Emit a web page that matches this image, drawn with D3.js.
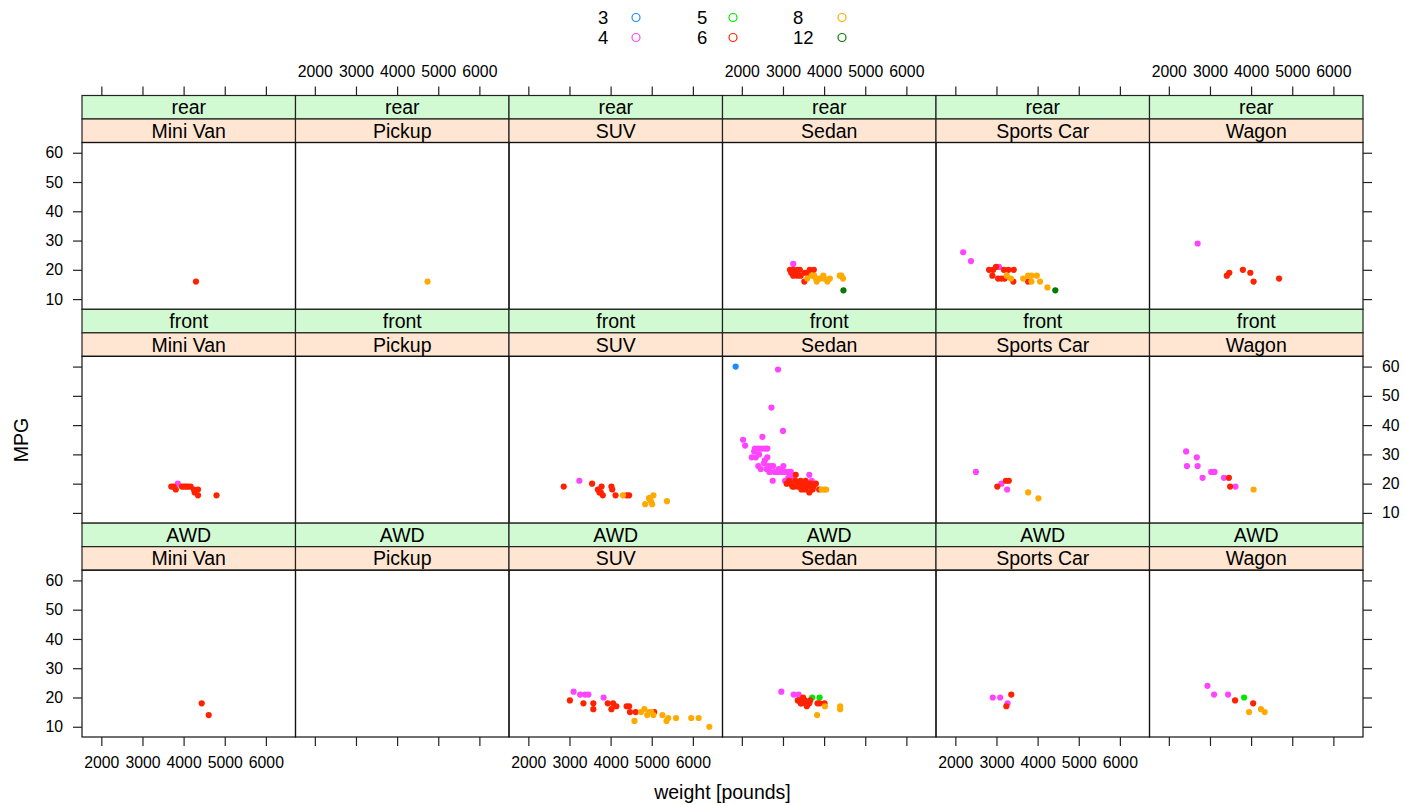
<!DOCTYPE html>
<html>
<head>
<meta charset="utf-8">
<script src="https://cdn.jsdelivr.net/npm/d3@7"></script>
<style>
body { margin: 0; background: #fff; }
text { font-family: "Liberation Sans", Arial, Helvetica, sans-serif; fill: #000; }
</style>
</head>
<body>
<div id="chart"></div>
<script>
var WIDTH = 1405, HEIGHT = 805;

// panel layout factors
var types = ["Mini Van", "Pickup", "SUV", "Sedan", "Sports Car", "Wagon"];
var drives = ["rear", "front", "AWD"];
var cylinders = [3, 4, 5, 6, 8, 12];
var cylColors = ["#1a8cff", "#ff44ff", "#00e600", "#ff2200", "#ffaa00", "#007a00"];
var xTicks = [2000, 3000, 4000, 5000, 6000];
var yTicks = [10, 20, 30, 40, 50, 60];

// [type, cylinders, weight, MPG]
var rearCars = [
    ["Mini Van", 6, 4300, 16],
    ["Pickup", 8, 4740, 16],
    ["Sedan", 4, 3250, 22],
    ["Sedan", 6, 3170, 20], ["Sedan", 6, 3250, 20], ["Sedan", 6, 3300, 19], ["Sedan", 6, 3410, 20],
    ["Sedan", 6, 3650, 20], ["Sedan", 6, 3750, 20], ["Sedan", 6, 3250, 18], ["Sedan", 6, 3350, 18],
    ["Sedan", 6, 3430, 18], ["Sedan", 6, 3530, 19], ["Sedan", 6, 3600, 19], ["Sedan", 6, 3520, 16],
    ["Sedan", 6, 3200, 19], ["Sedan", 6, 3350, 20],
    ["Sedan", 8, 3590, 17], ["Sedan", 8, 3700, 18], ["Sedan", 8, 3800, 17], ["Sedan", 8, 3900, 17],
    ["Sedan", 8, 3980, 18], ["Sedan", 8, 4080, 16], ["Sedan", 8, 4140, 17], ["Sedan", 8, 4380, 18],
    ["Sedan", 8, 4460, 17], ["Sedan", 8, 3820, 16], ["Sedan", 8, 4000, 17], ["Sedan", 8, 4420, 18],
    ["Sedan", 8, 3760, 18],
    ["Sedan", 12, 4470, 13],
    ["Sports Car", 4, 2190, 26], ["Sports Car", 4, 2380, 23], ["Sports Car", 4, 3060, 21],
    ["Sports Car", 6, 2820, 20], ["Sports Car", 6, 2920, 20], ["Sports Car", 6, 2990, 21], ["Sports Car", 6, 3180, 20],
    ["Sports Car", 6, 3290, 20], ["Sports Car", 6, 3420, 20], ["Sports Car", 6, 2900, 18], ["Sports Car", 6, 3040, 17],
    ["Sports Car", 6, 3120, 17], ["Sports Car", 6, 3200, 17], ["Sports Car", 6, 3410, 16], ["Sports Car", 6, 3770, 16],
    ["Sports Car", 8, 3250, 18], ["Sports Car", 8, 3350, 17], ["Sports Car", 8, 3650, 17], ["Sports Car", 8, 3770, 18],
    ["Sports Car", 8, 3850, 18], ["Sports Car", 8, 3980, 18], ["Sports Car", 8, 3850, 16], ["Sports Car", 8, 4060, 16],
    ["Sports Car", 8, 4240, 14],
    ["Sports Car", 12, 4430, 13],
    ["Wagon", 4, 2700, 29],
    ["Wagon", 6, 3410, 18], ["Wagon", 6, 3470, 19], ["Wagon", 6, 3800, 20], ["Wagon", 6, 3980, 19],
    ["Wagon", 6, 4060, 16], ["Wagon", 6, 4680, 17]
];

var frontCars = [
    ["Mini Van", 4, 3860, 20],
    ["Mini Van", 6, 3700, 19], ["Mini Van", 6, 3760, 19], ["Mini Van", 6, 3810, 18], ["Mini Van", 6, 3960, 19],
    ["Mini Van", 6, 4060, 19], ["Mini Van", 6, 4170, 19], ["Mini Van", 6, 4250, 18], ["Mini Van", 6, 4350, 18],
    ["Mini Van", 6, 4270, 17], ["Mini Van", 6, 4350, 16], ["Mini Van", 6, 4800, 16], ["Mini Van", 6, 4010, 19],
    ["Mini Van", 6, 4110, 19],
    ["SUV", 4, 3240, 21],
    ["SUV", 6, 2860, 19], ["SUV", 6, 3550, 20], ["SUV", 6, 3780, 19], ["SUV", 6, 3690, 18], ["SUV", 6, 3760, 17],
    ["SUV", 6, 3810, 16], ["SUV", 6, 4020, 19], ["SUV", 6, 4040, 18], ["SUV", 6, 4120, 16], ["SUV", 6, 4390, 16],
    ["SUV", 6, 4450, 16], ["SUV", 6, 4940, 15], ["SUV", 6, 3730, 17],
    ["SUV", 8, 4300, 16], ["SUV", 8, 4840, 13], ["SUV", 8, 4940, 15], ["SUV", 8, 5010, 13], ["SUV", 8, 5040, 16],
    ["SUV", 8, 5370, 14], ["SUV", 8, 4980, 14],
    ["Sedan", 3, 1850, 60],
    ["Sedan", 4, 2880, 59], ["Sedan", 4, 2720, 46], ["Sedan", 4, 3000, 38], ["Sedan", 4, 2030, 35], ["Sedan", 4, 2500, 36],
    ["Sedan", 4, 2080, 33], ["Sedan", 4, 2320, 32], ["Sedan", 4, 2400, 32], ["Sedan", 4, 2480, 32], ["Sedan", 4, 2560, 32],
    ["Sedan", 4, 2620, 32], ["Sedan", 4, 2240, 29], ["Sedan", 4, 2340, 29], ["Sedan", 4, 2560, 28], ["Sedan", 4, 2620, 29],
    ["Sedan", 4, 2400, 26], ["Sedan", 4, 2460, 25], ["Sedan", 4, 2640, 26], ["Sedan", 4, 2720, 26], ["Sedan", 4, 2680, 24],
    ["Sedan", 4, 2760, 26], ["Sedan", 4, 3010, 26], ["Sedan", 4, 2670, 24], ["Sedan", 4, 2800, 24], ["Sedan", 4, 2880, 24],
    ["Sedan", 4, 2970, 24], ["Sedan", 4, 3050, 24], ["Sedan", 4, 3130, 24], ["Sedan", 4, 3190, 24], ["Sedan", 4, 2750, 21],
    ["Sedan", 4, 3640, 23], ["Sedan", 4, 3700, 21], ["Sedan", 4, 3050, 21], ["Sedan", 4, 3130, 22], ["Sedan", 4, 3210, 22],
    ["Sedan", 4, 2420, 30], ["Sedan", 4, 2300, 31], ["Sedan", 4, 2540, 27], ["Sedan", 4, 2900, 25], ["Sedan", 4, 2600, 25],
    ["Sedan", 6, 3310, 23], ["Sedan", 6, 3090, 20], ["Sedan", 6, 3190, 20], ["Sedan", 6, 3270, 19], ["Sedan", 6, 3350, 20],
    ["Sedan", 6, 3430, 21], ["Sedan", 6, 3490, 20], ["Sedan", 6, 3560, 19], ["Sedan", 6, 3610, 20], ["Sedan", 6, 3670, 19],
    ["Sedan", 6, 3450, 18], ["Sedan", 6, 3530, 18], ["Sedan", 6, 3640, 17], ["Sedan", 6, 3740, 19], ["Sedan", 6, 3800, 20],
    ["Sedan", 6, 3880, 18], ["Sedan", 6, 3360, 19], ["Sedan", 6, 3230, 19], ["Sedan", 6, 3590, 19], ["Sedan", 6, 3480, 19],
    ["Sedan", 6, 3720, 18], ["Sedan", 6, 3400, 20], ["Sedan", 6, 3550, 21], ["Sedan", 6, 3300, 21], ["Sedan", 6, 3150, 21],
    ["Sedan", 6, 3680, 20],
    ["Sedan", 8, 3940, 18], ["Sedan", 8, 4000, 18], ["Sedan", 8, 4050, 18],
    ["Sports Car", 4, 2500, 24], ["Sports Car", 4, 3120, 20], ["Sports Car", 4, 3260, 18],
    ["Sports Car", 6, 3020, 19], ["Sports Car", 6, 3230, 21], ["Sports Car", 6, 3300, 21],
    ["Sports Car", 8, 3770, 17], ["Sports Car", 8, 4020, 15],
    ["Wagon", 4, 2420, 31], ["Wagon", 4, 2680, 29], ["Wagon", 4, 2440, 26], ["Wagon", 4, 2700, 26], ["Wagon", 4, 2820, 22],
    ["Wagon", 4, 3030, 24], ["Wagon", 4, 3110, 24], ["Wagon", 4, 3340, 22], ["Wagon", 4, 3620, 19],
    ["Wagon", 6, 3460, 22], ["Wagon", 6, 3490, 19],
    ["Wagon", 8, 4060, 18]
];

var awdCars = [
    ["Mini Van", 6, 4440, 18], ["Mini Van", 6, 4610, 14],
    ["SUV", 4, 3100, 22], ["SUV", 4, 3260, 21], ["SUV", 4, 3380, 21], ["SUV", 4, 3460, 21], ["SUV", 4, 3830, 20],
    ["SUV", 6, 3010, 19], ["SUV", 6, 3340, 18], ["SUV", 6, 3580, 18], ["SUV", 6, 3580, 16], ["SUV", 6, 3930, 18],
    ["SUV", 6, 4060, 18], ["SUV", 6, 4020, 16], ["SUV", 6, 4140, 17], ["SUV", 6, 4390, 17], ["SUV", 6, 4450, 17],
    ["SUV", 6, 4470, 15], ["SUV", 6, 4610, 15], ["SUV", 6, 5060, 15],
    ["SUV", 8, 4820, 16], ["SUV", 8, 4740, 15], ["SUV", 8, 4890, 14], ["SUV", 8, 4990, 15], ["SUV", 8, 5040, 14],
    ["SUV", 8, 4580, 12], ["SUV", 8, 5260, 14], ["SUV", 8, 5400, 13], ["SUV", 8, 5360, 12], ["SUV", 8, 5590, 13],
    ["SUV", 8, 5960, 13], ["SUV", 8, 6140, 13], ["SUV", 8, 6400, 10], ["SUV", 8, 4940, 15],
    ["Sedan", 4, 2960, 22], ["Sedan", 4, 3260, 21], ["Sedan", 4, 3380, 21],
    ["Sedan", 5, 3710, 20], ["Sedan", 5, 3890, 20],
    ["Sedan", 6, 3490, 20], ["Sedan", 6, 3360, 19], ["Sedan", 6, 3430, 18], ["Sedan", 6, 3530, 19], ["Sedan", 6, 3580, 17],
    ["Sedan", 6, 3640, 18], ["Sedan", 6, 3840, 18], ["Sedan", 6, 3890, 18], ["Sedan", 6, 4010, 18], ["Sedan", 6, 3660, 19],
    ["Sedan", 6, 3450, 18], ["Sedan", 6, 3400, 19], ["Sedan", 6, 3550, 18],
    ["Sedan", 8, 4020, 17], ["Sedan", 8, 4390, 17], ["Sedan", 8, 4390, 16], ["Sedan", 8, 3830, 14],
    ["Sports Car", 4, 2910, 20], ["Sports Car", 4, 3090, 20], ["Sports Car", 4, 3270, 18],
    ["Sports Car", 6, 3360, 21], ["Sports Car", 6, 3240, 17],
    ["Wagon", 4, 2940, 24], ["Wagon", 4, 3100, 21], ["Wagon", 4, 3440, 21],
    ["Wagon", 5, 3830, 20],
    ["Wagon", 6, 3610, 19], ["Wagon", 6, 4050, 18],
    ["Wagon", 8, 3950, 15], ["Wagon", 8, 4240, 16], ["Wagon", 8, 4330, 15]
];

var carsByDrive = [rearCars, frontCars, awdCars];

var LEFT = 82, RIGHT = 1363, TOP = 95.5, BOTTOM = 737;
var colW = (RIGHT - LEFT) / types.length;
var rowH = (BOTTOM - TOP) / drives.length;
var stripH = 23.5;
var panelH = rowH - 2 * stripH;

var svg = d3.select("#chart").append("svg").attr("width", WIDTH).attr("height", HEIGHT)

var color = d3.scaleOrdinal().domain(cylinders).range(cylColors)
var x_scale = d3.scaleLinear().domain([1530, 6720]).range([0, colW])
var y_scale = d3.scaleLinear().domain([6.5, 63.5]).range([panelH, 0])
var fmt = d3.format("d")

drives.forEach(function(drive, r) {
    types.forEach(function(type, c) {
        var g = svg.append("g").attr("transform", "translate(" + (LEFT + c * colW) + "," + (TOP + r * rowH) + ")")

        // strips
        g.append("rect").attr("width", colW).attr("height", stripH).attr("fill", "#d2fad2").attr("stroke", "#222").attr("stroke-width", 1.2)
        g.append("text").attr("x", colW / 2).attr("y", stripH / 2).attr("dy", "0.36em").attr("text-anchor", "middle").attr("font-size", "19.5px").text(drive)
        g.append("rect").attr("y", stripH).attr("width", colW).attr("height", stripH).attr("fill", "#ffe6d2").attr("stroke", "#222").attr("stroke-width", 1.2)
        g.append("text").attr("x", colW / 2).attr("y", stripH * 1.5).attr("dy", "0.36em").attr("text-anchor", "middle").attr("font-size", "19.5px").text(type)

        var panel = g.append("g").attr("transform", "translate(0," + (2 * stripH) + ")")
        panel.append("rect").attr("width", colW).attr("height", panelH).attr("fill", "none").attr("stroke", "#111").attr("stroke-width", 1.2)

        // points, drawn in cylinder order
        var pts = carsByDrive[r].filter(d => d[0] == type)
        cylinders.forEach(function(cyl) {
            panel.selectAll(null).data(pts.filter(d => d[1] == cyl)).enter().append("circle")
                .attr("cx", d => x_scale(d[2])).attr("cy", d => y_scale(d[3])).attr("r", 3.1)
                .attr("fill", color(cyl))
        })

        // x axes: ticks everywhere, labels alternate top/bottom
        if (r == 0) {
            var ax = d3.axisTop(x_scale).tickValues(xTicks).tickSize(9).tickPadding(9.5).tickFormat(c % 2 == 0 ? "" : fmt)
            g.append("g").attr("class", "axis").call(ax)
        }
        if (r == drives.length - 1) {
            var bx = d3.axisBottom(x_scale).tickValues(xTicks).tickSize(9).tickPadding(10.5).tickFormat(c % 2 == 1 ? "" : fmt)
            panel.append("g").attr("class", "axis").attr("transform", "translate(0," + panelH + ")").call(bx)
        }
        // y axes: labels alternate left/right
        if (c == 0) {
            var ly = d3.axisLeft(y_scale).tickValues(yTicks).tickSize(9).tickPadding(10).tickFormat(r % 2 == 1 ? "" : fmt)
            panel.append("g").attr("class", "axis").call(ly)
        }
        if (c == types.length - 1) {
            var ry = d3.axisRight(y_scale).tickValues(yTicks).tickSize(9).tickPadding(10).tickFormat(r % 2 == 0 ? "" : fmt)
            panel.append("g").attr("class", "axis").attr("transform", "translate(" + colW + ",0)").call(ry)
        }
    })
})

svg.selectAll(".axis .domain").remove()
svg.selectAll(".axis line").attr("stroke", "#222").attr("stroke-width", 1.2)
svg.selectAll(".axis text").attr("font-size", "15.8px").attr("font-family", "Liberation Sans, Arial, sans-serif").attr("fill", "#000")

// axis titles
svg.append("text").attr("x", (LEFT + RIGHT) / 2).attr("y", 799).attr("text-anchor", "middle").attr("font-size", "19.5px").text("weight [pounds]")
svg.append("text").attr("transform", "translate(28,440) rotate(-90)").attr("text-anchor", "middle").attr("font-size", "19.5px").text("MPG")

// key: three columns of two
var legendX = [598, 697, 793], legendPt = [636, 733, 842], legendY = [17.5, 37.5];
cylinders.forEach(function(cyl, i) {
    var col = Math.floor(i / 2), row = i % 2;
    svg.append("text").attr("x", legendX[col]).attr("y", legendY[row]).attr("dy", "0.36em").attr("font-size", "18.5px").text(cyl)
    svg.append("circle").attr("cx", legendPt[col]).attr("cy", legendY[row]).attr("r", 4).attr("fill", "none").attr("stroke", color(cyl)).attr("stroke-width", 1.2)
})
</script>
</body>
</html>
